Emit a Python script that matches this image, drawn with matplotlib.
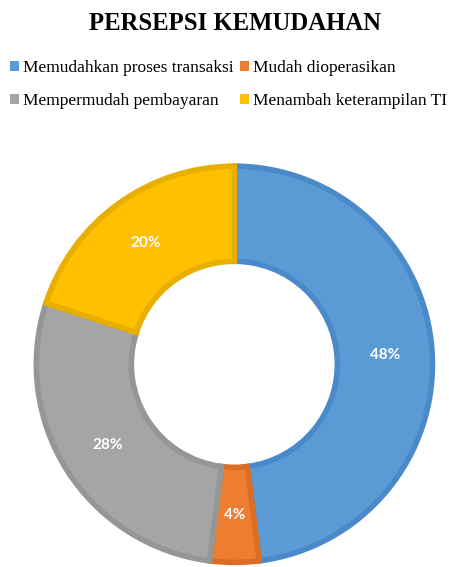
import matplotlib
matplotlib.use('Agg')
import matplotlib.pyplot as plt

TITLE  = 'PERSEPSI KEMUDAHAN'
LABELS = ['Memudahkan proses transaksi', 'Mudah dioperasikan',
          'Mempermudah pembayaran', 'Menambah keterampilan TI']
VALUES = [48, 4, 28, 20]
COLORS = ['#5B9BD5', '#ED7D31', '#A5A5A5', '#FFC000']
EDGES  = ['#4A8ACB', '#DB6E24', '#969696', '#E8AE00']

fig = plt.figure(figsize=(4.49, 5.67), dpi=100)
ax = fig.add_axes([0.072, 0.0, 0.9, 0.715])

wedges, texts, autotexts = ax.pie(
    VALUES, colors=COLORS, startangle=90, counterclock=False,
    radius=1.0, autopct='%d%%', pctdistance=0.76,
    wedgeprops=dict(width=0.48, linewidth=4, joinstyle='miter'),
    textprops=dict(color='white', fontsize=11, fontweight='bold',
                   family='Lato'))
for w, ec in zip(wedges, EDGES):
    w.set_edgecolor(ec)
ax.set_aspect('equal')
ax.set_xlim(-1.02, 1.02)
ax.set_ylim(-1.01, 1.01)

fig.text(0.523, 0.958, TITLE, ha='center', va='center',
         family='Liberation Serif', fontweight='bold', fontsize=17.8)

# legend filled by column, so reorder to get rows A B / C D
order = [0, 2, 1, 3]
leg = fig.legend([wedges[i] for i in order], [LABELS[i] for i in order],
                 ncol=2, loc='upper left', bbox_to_anchor=(-0.012, 0.921),
                 frameon=False, handlelength=0.5, handleheight=0.5,
                 handletextpad=0.25, columnspacing=0.35, labelspacing=0.97,
                 prop=dict(family='Liberation Serif', size=12.5))
for h in leg.legend_handles:
    h.set_linewidth(0)

fig.savefig('out.png', dpi=100)
